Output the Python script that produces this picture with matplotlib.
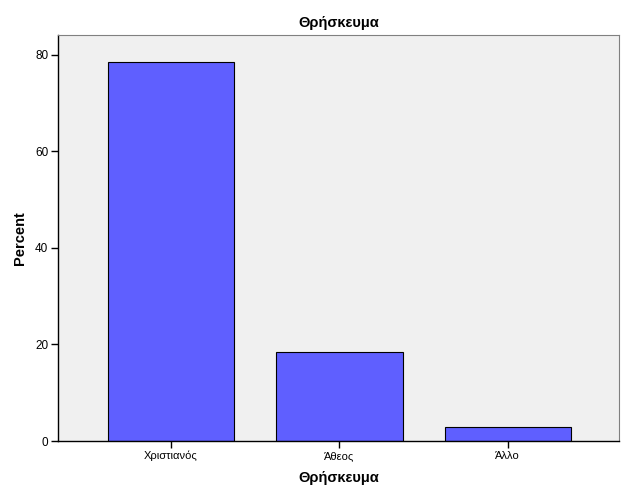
import matplotlib
matplotlib.use("Agg")
import matplotlib.pyplot as plt
import numpy as np

plt.rcParams['font.family'] = ['Liberation Sans', 'DejaVu Sans']

categorias = ['Χριστιανός', 'Άθεος', 'Άλλο']
porcentajes = [78.6, 18.5, 2.9]
y_ticks = [0, 20, 40, 60, 80]

fig = plt.figure(figsize=(6.26, 5.01), dpi=100)
ax = fig.add_axes([58/626, 60/501, 561/626, 406/501])
ax.set_facecolor('#f0f0f0')

x = np.arange(len(categorias))
ax.bar(x, porcentajes, width=0.75, color='#5f5fff', edgecolor='black', linewidth=0.8)

ax.set_xlim(-0.67, 2.66)
ax.set_ylim(0, 84.1)
ax.set_xticks(x)
ax.set_xticklabels(categorias, fontsize=8)
ax.set_yticks(y_ticks)
ax.set_yticklabels([str(v) for v in y_ticks], fontsize=8.5)
ax.tick_params(axis='both', direction='out', length=5, width=1, color='black', pad=2)

for lado in ['top', 'right']:
    ax.spines[lado].set_color('#808080')
for lado in ['left', 'bottom']:
    ax.spines[lado].set_color('black')
    ax.spines[lado].set_linewidth(1)

ax.set_title('Θρήσκευμα', fontsize=10.5, fontweight='bold', pad=6)
ax.set_xlabel('Θρήσκευμα', fontsize=10.5, fontweight='bold', labelpad=7)
ax.set_ylabel('Percent', fontsize=10.5, fontweight='bold', labelpad=6)

fig.savefig('out.png', dpi=100)
